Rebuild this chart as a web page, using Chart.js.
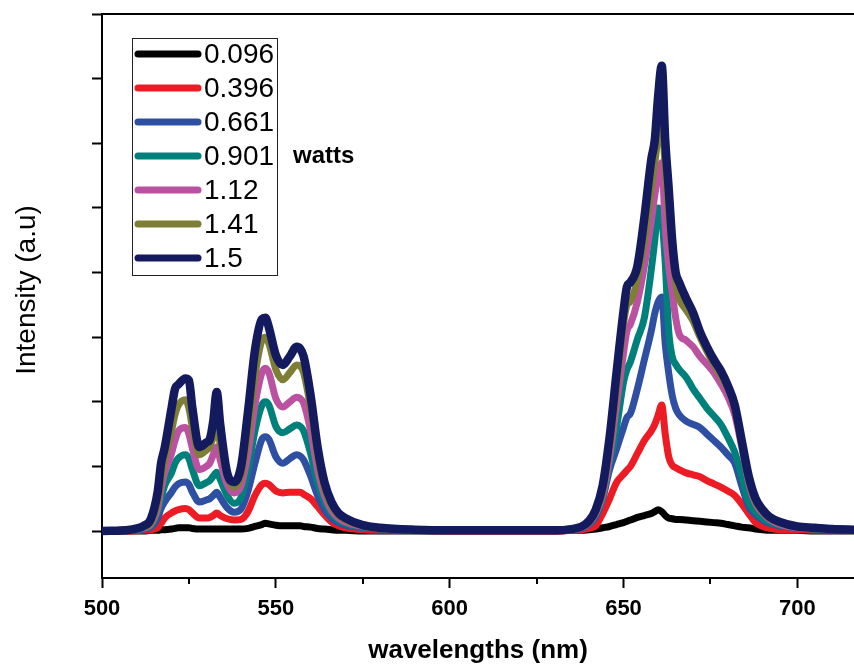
<!DOCTYPE html>
<html>
<head>
<meta charset="utf-8">
<title>Emission spectra vs. pump power</title>
<script src="https://cdn.jsdelivr.net/npm/chart.js@4.4.1/dist/chart.umd.min.js"></script>
<style>
  html, body { margin: 0; padding: 0; background: #fff; overflow: hidden; }
  #wrap { width: 854px; height: 666px; }
</style>
</head>
<body>
<div id="wrap"><canvas id="spectra" width="854" height="666"></canvas></div>
<script>
// Wavelength samples (nm) shared by every spectrum
const wavelengths = [
  500, 508, 512, 514, 516, 517, 518, 520, 521, 522,
  524, 525, 526, 528, 530, 531, 532, 533, 534, 536,
  538, 540, 542, 544, 546, 547, 548, 550, 552, 554,
  556, 557, 558, 560, 562, 564, 566, 568, 570, 575,
  580, 590, 600, 610, 620, 630,
  635, 638, 640, 642, 644, 646, 648, 650, 651, 652,
  654, 656, 658, 659, 660, 661, 662, 663, 664, 665,
  666, 668, 670, 672, 674, 676, 678, 680, 682, 684,
  686, 688, 690, 692, 695, 700, 705, 710, 717
];

// Pump powers (watts), one spectrum each
const powerLabels = ['0.096', '0.396', '0.661', '0.901', '1.12', '1.41', '1.5'];

// Emission intensity (a.u.) for each pump power
const intensity0096 = [
  0, 0, 0, 0.01, 0.01, 0.02, 0.02, 0.03, 0.04, 0.05,
  0.05, 0.05, 0.04, 0.03, 0.03, 0.03, 0.03, 0.03, 0.03, 0.03,
  0.03, 0.03, 0.04, 0.07, 0.10, 0.12, 0.11, 0.09, 0.08, 0.08,
  0.08, 0.08, 0.07, 0.06, 0.04, 0.03, 0.02, 0.01, 0.01, 0,
  0, 0, 0, 0, 0, 0,
  0.01, 0.01, 0.02, 0.03, 0.05, 0.07, 0.10, 0.13, 0.15, 0.17,
  0.21, 0.24, 0.27, 0.30, 0.33, 0.30, 0.24, 0.20, 0.19, 0.18,
  0.18, 0.17, 0.16, 0.15, 0.14, 0.13, 0.12, 0.10, 0.08, 0.06,
  0.05, 0.03, 0.02, 0.01, 0.01, 0.01, 0, 0, 0
];
const intensity0396 = [
  0, 0, 0.01, 0.02, 0.05, 0.12, 0.20, 0.28, 0.31, 0.33,
  0.35, 0.33, 0.28, 0.20, 0.20, 0.21, 0.24, 0.28, 0.24, 0.19,
  0.17, 0.18, 0.30, 0.55, 0.72, 0.74, 0.72, 0.62, 0.59, 0.60,
  0.60, 0.60, 0.57, 0.50, 0.38, 0.25, 0.14, 0.08, 0.05, 0.02,
  0.01, 0.01, 0, 0, 0, 0,
  0.01, 0.02, 0.04, 0.08, 0.27, 0.50, 0.75, 0.88, 0.94, 1.00,
  1.20, 1.40, 1.55, 1.65, 1.80, 1.95, 1.50, 1.15, 1.02, 0.98,
  0.95, 0.90, 0.87, 0.84, 0.78, 0.73, 0.68, 0.62, 0.55, 0.42,
  0.27, 0.13, 0.07, 0.04, 0.02, 0.02, 0.01, 0.01, 0.01
];
const intensity0661 = [
  0, 0.01, 0.03, 0.06, 0.20, 0.35, 0.45, 0.60, 0.68, 0.73,
  0.76, 0.72, 0.60, 0.45, 0.48, 0.50, 0.55, 0.60, 0.52, 0.36,
  0.29, 0.34, 0.62, 1.05, 1.42, 1.46, 1.42, 1.15, 1.05, 1.12,
  1.18, 1.16, 1.10, 0.85, 0.55, 0.33, 0.20, 0.13, 0.09, 0.05,
  0.03, 0.01, 0.01, 0.01, 0.01, 0.01,
  0.02, 0.04, 0.10, 0.22, 0.50, 0.95, 1.27, 1.60, 1.76, 1.82,
  2.20, 2.65, 3.10, 3.37, 3.55, 3.62, 2.90, 2.45, 2.10, 1.90,
  1.80, 1.70, 1.65, 1.60, 1.50, 1.40, 1.30, 1.18, 1.05, 0.70,
  0.38, 0.25, 0.17, 0.12, 0.08, 0.05, 0.03, 0.02, 0.02
];
const intensity0901 = [
  0, 0.01, 0.04, 0.08, 0.30, 0.50, 0.70, 0.90, 1.05, 1.13,
  1.18, 1.12, 0.95, 0.70, 0.75, 0.78, 0.85, 0.91, 0.80, 0.55,
  0.43, 0.52, 0.95, 1.55, 1.95, 2.00, 1.95, 1.62, 1.52, 1.58,
  1.64, 1.62, 1.55, 1.20, 0.75, 0.45, 0.27, 0.17, 0.12, 0.06,
  0.03, 0.01, 0.01, 0.01, 0.01, 0.01,
  0.02, 0.05, 0.11, 0.25, 0.50, 1.05, 1.60, 2.30, 2.50, 2.62,
  2.97, 3.30, 4.05, 4.50, 5.00, 4.85, 4.15, 3.10, 2.70, 2.58,
  2.50, 2.38, 2.20, 2.05, 1.90, 1.78, 1.65, 1.45, 1.22, 0.85,
  0.45, 0.30, 0.20, 0.14, 0.09, 0.05, 0.03, 0.02, 0.02
];
const intensity112 = [
  0, 0.02, 0.05, 0.10, 0.35, 0.65, 0.90, 1.20, 1.40, 1.55,
  1.60, 1.50, 1.28, 0.95, 1.00, 1.05, 1.18, 1.30, 1.10, 0.72,
  0.59, 0.70, 1.20, 1.95, 2.45, 2.52, 2.45, 2.05, 1.92, 2.00,
  2.07, 2.05, 1.98, 1.55, 0.95, 0.55, 0.32, 0.20, 0.14, 0.07,
  0.04, 0.02, 0.01, 0.01, 0.01, 0.01,
  0.02, 0.05, 0.12, 0.27, 0.55, 1.15, 1.95, 2.75, 3.10, 3.20,
  3.55, 4.10, 4.80, 5.20, 5.50, 5.70, 4.70, 4.10, 3.70, 3.30,
  3.05, 2.95, 2.85, 2.70, 2.58, 2.45, 2.28, 2.08, 1.80, 1.30,
  0.75, 0.42, 0.28, 0.18, 0.10, 0.05, 0.04, 0.03, 0.02
];
const intensity141 = [
  0, 0.02, 0.06, 0.12, 0.45, 0.80, 1.10, 1.55, 1.80, 1.95,
  2.03, 1.90, 1.60, 1.18, 1.25, 1.30, 1.45, 1.60, 1.35, 0.85,
  0.68, 0.85, 1.50, 2.40, 2.95, 3.00, 2.90, 2.50, 2.34, 2.45,
  2.57, 2.55, 2.45, 1.90, 1.15, 0.65, 0.38, 0.24, 0.17, 0.08,
  0.04, 0.02, 0.01, 0.01, 0.01, 0.01,
  0.03, 0.06, 0.13, 0.30, 0.62, 1.30, 2.20, 3.20, 3.50, 3.55,
  3.90, 4.50, 5.30, 5.70, 6.10, 6.40, 5.60, 4.90, 4.30, 3.85,
  3.60, 3.42, 3.25, 3.00, 2.78, 2.58, 2.40, 2.20, 1.90, 1.35,
  0.80, 0.45, 0.30, 0.20, 0.12, 0.06, 0.04, 0.03, 0.02
];
const intensity15 = [
  0, 0.02, 0.08, 0.18, 0.60, 1.05, 1.28, 1.90, 2.20, 2.27,
  2.36, 2.33, 1.90, 1.30, 1.37, 1.42, 1.70, 2.15, 1.65, 0.90,
  0.76, 1.00, 1.85, 2.80, 3.28, 3.30, 3.15, 2.72, 2.57, 2.70,
  2.85, 2.82, 2.70, 2.10, 1.30, 0.75, 0.45, 0.28, 0.20, 0.09,
  0.05, 0.02, 0.01, 0.01, 0.01, 0.01,
  0.03, 0.07, 0.15, 0.33, 0.70, 1.45, 2.45, 3.40, 3.78, 3.85,
  4.10, 4.85, 5.75, 6.05, 6.75, 7.20, 6.05, 5.30, 4.50, 4.00,
  3.85, 3.60, 3.38, 3.08, 2.85, 2.65, 2.48, 2.25, 1.95, 1.40,
  0.85, 0.50, 0.33, 0.22, 0.14, 0.07, 0.05, 0.03, 0.02
];

// Axis ticks
const xMajorTicks = [500, 550, 600, 650, 700];
const xMinorTicks = [525, 575, 625, 675];
const yTicks = [0, 1, 2, 3, 4, 5, 6, 7, 8];

const seriesValues = [intensity0096, intensity0396, intensity0661, intensity0901,
                      intensity112, intensity141, intensity15];
const seriesColors = ['#000000', '#ED1C24', '#2F50A2', '#00807A', '#BB52A1', '#7E7E36', '#141A5E'];

const FONT = "'Liberation Sans', Arial, Helvetica, sans-serif";

const datasets = powerLabels.map((label, k) => ({
  label,
  data: wavelengths.map((w, i) => ({ x: w, y: seriesValues[k][i] })),
  borderColor: seriesColors[k],
  backgroundColor: seriesColors[k],
  borderWidth: k === powerLabels.length - 1 ? 8.5 : 7,
  pointRadius: 0,
  fill: false,
  tension: 0,
  cubicInterpolationMode: 'monotone',
  borderJoinStyle: 'round',
  borderCapStyle: 'round',
  order: powerLabels.length - 1 - k   // highest power drawn on top
}));

// Frame, minor ticks, inset legend and axis/legend notes
const decorations = {
  id: 'decorations',
  afterDraw(chart) {
    const { ctx, chartArea: area, scales } = chart;
    ctx.save();

    // top frame line
    ctx.strokeStyle = '#000';
    ctx.lineWidth = 2;
    ctx.beginPath();
    ctx.moveTo(area.left, area.top);
    ctx.lineTo(area.right, area.top);
    ctx.stroke();

    // minor x ticks
    xMinorTicks.forEach(v => {
      const px = Math.round(scales.x.getPixelForValue(v));
      ctx.beginPath();
      ctx.moveTo(px, area.bottom);
      ctx.lineTo(px, area.bottom + 6);
      ctx.stroke();
    });

    // inset legend
    const lx = area.left + 30, ly = area.top + 24, lw = 145, lh = 237;
    ctx.lineWidth = 1;
    ctx.strokeStyle = '#222';
    ctx.strokeRect(lx + 0.5, ly + 0.5, lw, lh);
    ctx.font = '28px ' + FONT;
    ctx.textBaseline = 'middle';
    ctx.textAlign = 'left';
    chart.data.datasets.forEach((ds, i) => {
      const ry = ly + 16 + i * 34;
      ctx.strokeStyle = ds.borderColor;
      ctx.lineWidth = 7;
      ctx.lineCap = 'round';
      ctx.beginPath();
      ctx.moveTo(lx + 6, ry);
      ctx.lineTo(lx + 66, ry);
      ctx.stroke();
      ctx.fillStyle = '#000';
      ctx.fillText(ds.label, lx + 72, ry + 1);
    });

    // unit note beside the legend
    ctx.font = 'bold 24px ' + FONT;
    ctx.textBaseline = 'alphabetic';
    ctx.fillText('watts', 293, 163);

    // y-axis title
    ctx.translate(27, 290);
    ctx.rotate(-Math.PI / 2);
    ctx.textAlign = 'center';
    ctx.textBaseline = 'middle';
    ctx.font = '28px ' + FONT;
    ctx.fillText('Intensity (a.u)', 0, 0);

    ctx.restore();
  }
};

new Chart(document.getElementById('spectra'), {
  type: 'line',
  data: { datasets },
  options: {
    responsive: false,
    devicePixelRatio: 1,
    animation: false,
    layout: { padding: { top: 14, right: 0, bottom: 0, left: 0 } },
    plugins: { legend: { display: false }, tooltip: { enabled: false } },
    scales: {
      x: {
        type: 'linear',
        min: 500,
        max: 716.3,
        afterBuildTicks: s => { s.ticks = xMajorTicks.map(v => ({ value: v })); },
        afterFit: s => { s.height = 88; },
        border: { display: true, color: '#000', width: 2 },
        grid: { display: true, drawOnChartArea: false, drawTicks: true,
                tickLength: 10, tickWidth: 2, tickColor: '#000' },
        ticks: { color: '#000', padding: 8, maxRotation: 0, autoSkip: false,
                 font: { family: FONT, size: 22, weight: 'bold' },
                 callback: v => String(v) },
        title: { display: true, text: 'wavelengths (nm)', color: '#000',
                 font: { family: FONT, size: 26, weight: 'bold' },
                 padding: { top: 0, bottom: 0 } }
      },
      y: {
        type: 'linear',
        min: -0.727,
        max: 8,
        afterBuildTicks: s => { s.ticks = yTicks.map(v => ({ value: v })); },
        afterFit: s => { s.width = 102; },
        border: { display: true, color: '#000', width: 2 },
        grid: { display: true, drawOnChartArea: false, drawTicks: true,
                tickLength: 10, tickWidth: 2, tickColor: '#000' },
        ticks: { display: false },
        title: { display: false }
      }
    }
  },
  plugins: [decorations]
});
</script>
</body>
</html>
